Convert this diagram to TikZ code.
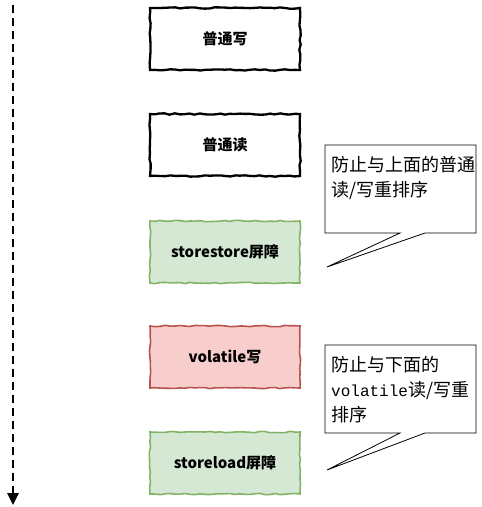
\documentclass[tikz,border=0pt]{standalone}
\usepackage{fontspec}
\usepackage{xcolor}
\usetikzlibrary{arrows.meta,decorations.pathmorphing,calc}
\newfontfamily\cjk{Noto Sans CJK SC}
\newfontfamily\cjkmono{Liberation Mono}
\definecolor{barfill}{HTML}{D5E8D4}
\definecolor{barline}{HTML}{82B366}
\definecolor{volfill}{HTML}{F8CECC}
\definecolor{volline}{HTML}{B85450}

\tikzset{
  sketch/.style={draw, decorate, decoration={random steps, segment length=5pt, amplitude=0.7pt}},
  opbox/.style={sketch, minimum width=150pt, minimum height=62pt, line width=2.3pt, fill=white,
    font=\cjk\bfseries\fontsize{15}{17}\selectfont},
  barbox/.style={opbox, fill=barfill, draw=barline, line width=1.6pt},
  volbox/.style={opbox, fill=volfill, draw=volline, line width=1.6pt},
  note/.style={anchor=north west, inner xsep=6pt, inner ysep=11pt, align=left,
    font=\cjk\fontsize{18}{25}\selectfont},
  callout/.style={draw, line width=0.8pt, fill=white},
  timeline/.style={line width=2.6pt, dash pattern=on 8pt off 5pt, -{Triangle[width=11pt,length=12pt]}}
}

\begin{document}
\begin{tikzpicture}[x=1pt,y=-1pt]
\pgfmathsetseed{7}
\useasboundingbox (0,0) rectangle (482,507);

% time goes down
\coordinate (tstart) at (13,5);
\coordinate (tend) at (13,505);
\draw[timeline] (tstart) -- (tend);

% operations and barriers
\node[opbox] (write) at (225,39) {普通写};
\node[opbox] (read) at (225,145) {普通读};
\node[barbox] (ssbar) at (225,252) {storestore屏障};
\node[volbox] (volw) at (225,357) {volatile写};
\node[barbox] (slbar) at (225,463) {storeload屏障};

% notes
\coordinate (tip1) at (327,267);
\draw[callout] (325,145) -- ++(151,0) -- ++(0,88) -- ++(-51,0) -- (tip1) -- (400,233) -- (325,233) -- cycle;
\node[note] (note1) at (325,145) {防止与上面的普通\\读/写重排序};

\coordinate (tip2) at (327,470);
\draw[callout] (325,345) -- ++(151,0) -- ++(0,88) -- ++(-51,0) -- (tip2) -- (400,433) -- (325,433) -- cycle;
\node[note] (note2) at (325,345) {防止与下面的\\{\cjkmono\fontsize{16}{25}\selectfont volatile}读/写重\\排序};
\end{tikzpicture}
\end{document}
